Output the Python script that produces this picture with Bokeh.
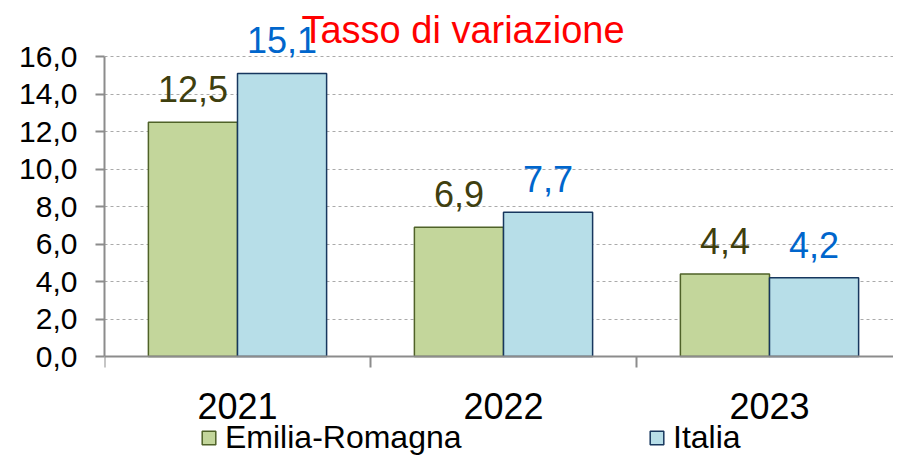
from bokeh.plotting import figure
from bokeh.models import (ColumnDataSource, FixedTicker, Range1d, LabelSet, Label,
                          Legend, LegendItem)
from bokeh.core.properties import value
from bokeh.embed import file_html
from bokeh.resources import INLINE

years = ["2021", "2022", "2023"]
emilia = [12.5, 6.9, 4.4]
italia = [15.1, 7.7, 4.2]
y_ticks = [0, 2, 4, 6, 8, 10, 12, 14, 16]
title_text = "Tasso di variazione"

FONT = "Liberation Sans"
GREEN_FILL, GREEN_LINE, GREEN_TXT = "#C3D69B", "#4F6228", "#3F3F0F"
BLUE_FILL, BLUE_LINE, BLUE_TXT = "#B7DEE8", "#17375E", "#0066CC"

W, H = 893, 456
LEFT, BOTTOM_Y = 104, 356      # frame left, pixel of y=0
PX_CAT, PX_UNIT = 266, 18.75

centers = [i + 0.5 for i in range(len(years))]
bw = 0.335
src_e = ColumnDataSource(dict(x=[c - bw / 2 for c in centers], y=emilia,
                              lab=[f"{v:.1f}".replace(".", ",") for v in emilia]))
src_i = ColumnDataSource(dict(x=[c + bw / 2 for c in centers], y=italia,
                              lab=[f"{v:.1f}".replace(".", ",") for v in italia]))

p = figure(width=W, height=H, output_backend="svg", toolbar_location=None,
           x_range=Range1d(0, (W - LEFT) / PX_CAT),
           y_range=Range1d(-(H - BOTTOM_Y) / PX_UNIT, BOTTOM_Y / PX_UNIT),
           min_border_left=LEFT, min_border_top=0, min_border_bottom=0,
           min_border_right=0)
p.outline_line_color = None
p.background_fill_color = "white"

r_e = p.vbar(x="x", top="y", width=bw, source=src_e, fill_color=GREEN_FILL,
             line_color=GREEN_LINE, line_width=1.5)
r_i = p.vbar(x="x", top="y", width=bw, source=src_i, fill_color=BLUE_FILL,
             line_color=BLUE_LINE, line_width=1.5)

# axes
p.xgrid.visible = False
p.ygrid.ticker = FixedTicker(ticks=y_ticks[1:])
p.ygrid.grid_line_color = "#AAAAAA"
p.ygrid.grid_line_dash = "3 3"
p.ygrid.grid_line_width = 1

p.yaxis.ticker = FixedTicker(ticks=y_ticks)
p.yaxis.bounds = (0, 16)
p.yaxis.major_label_overrides = {t: f"{t:.1f}".replace(".", ",") for t in y_ticks}
p.yaxis.major_label_text_font = FONT
p.yaxis.major_label_text_font_size = "30px"
p.yaxis.major_label_text_color = "black"
p.yaxis.major_tick_out = 9
p.yaxis.major_tick_in = 0
p.yaxis.minor_tick_line_color = None
p.yaxis.axis_line_color = "#8C8C8C"
p.yaxis.axis_line_width = 2
p.yaxis.major_tick_line_color = "#8C8C8C"
p.yaxis.major_tick_line_width = 2
p.yaxis.major_label_standoff = 18

p.xaxis.fixed_location = 0
p.xaxis.ticker = FixedTicker(ticks=centers, minor_ticks=[0, 1, 2, 3])
p.xaxis.major_label_overrides = {c: y for c, y in zip(centers, years)}
p.xaxis.major_label_text_font = FONT
p.xaxis.major_label_text_font_size = "36px"
p.xaxis.major_label_text_color = "black"
p.xaxis.major_tick_out = 0
p.xaxis.major_tick_in = 0
p.xaxis.minor_tick_out = 11
p.xaxis.minor_tick_in = 0
p.xaxis.minor_tick_line_color = "#8C8C8C"
p.xaxis.minor_tick_line_width = 2
p.xaxis.axis_line_color = "#8C8C8C"
p.xaxis.axis_line_width = 2
p.xaxis.major_label_standoff = 25

# value labels
for src, col in ((src_e, GREEN_TXT), (src_i, BLUE_TXT)):
    p.add_layout(LabelSet(x="x", y="y", text="lab", source=src, text_align="center",
                          text_baseline="alphabetic", y_offset=20, text_font=value(FONT),
                          text_font_size=value("36px"), text_color=value(col)))

# title
p.add_layout(Label(x=(462.5 - LEFT) / PX_CAT, y=(BOTTOM_Y - 29) / PX_UNIT, text=title_text,
                   text_align="center", text_baseline="alphabetic", text_font=FONT,
                   text_font_size="38px", text_color="#FF0000"))

legend = Legend(items=[LegendItem(label="Emilia-Romagna", renderers=[r_e]),
                       LegendItem(label="Italia", renderers=[r_i])],
                orientation="horizontal", location=(96, 0),
                glyph_width=17, glyph_height=17, label_standoff=8,
                label_width=423, spacing=0, padding=0, margin=0,
                label_text_font=FONT, label_text_font_size="32px",
                label_text_color="black", border_line_alpha=0,
                background_fill_alpha=0)
p.add_layout(legend, "center")

open("out.html", "w").write(file_html(p, INLINE))
